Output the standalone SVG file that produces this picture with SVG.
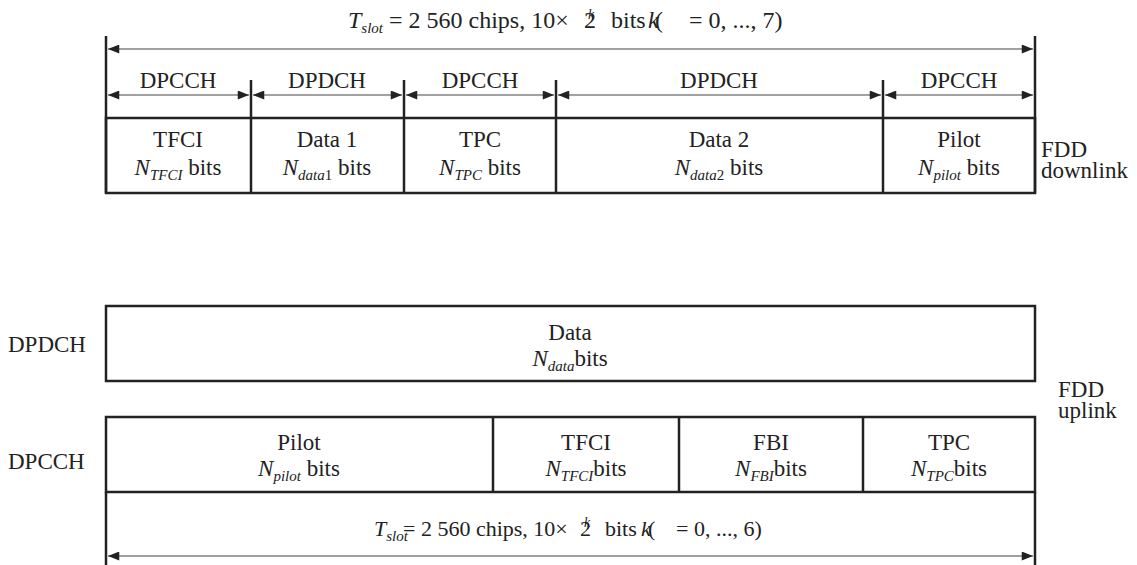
<svg xmlns="http://www.w3.org/2000/svg" width="1137" height="565" viewBox="0 0 1137 565">
<style>
text{font-family:"Liberation Serif","Times New Roman",serif;fill:#222;}
.lbl{font-size:23px;text-anchor:middle;}
.side{font-size:23px;}
.ttl{font-size:24px;}
.it{font-style:italic;}
.sub{font-style:italic;font-size:15px;}
.sup{font-style:italic;font-size:14px;}
.box{fill:none;stroke:#222;stroke-width:2.5;}
.div{stroke:#222;stroke-width:2.5;}
.arr{stroke:#444;stroke-width:1.2;marker-start:url(#ah);marker-end:url(#ah);}
</style>
<defs>
<marker id="ah" viewBox="0 0 10 8" refX="10" refY="4" markerWidth="12" markerHeight="9" markerUnits="userSpaceOnUse" orient="auto-start-reverse">
<path d="M0,0 L10,4 L0,8 z" fill="#222"/>
</marker>
</defs>

<g id="connectors">
<line class="div" x1="106" y1="36" x2="106" y2="193"/>
<line class="div" x1="1035" y1="36" x2="1035" y2="193"/>
<line class="arr" x1="108" y1="49" x2="1033" y2="49"/>
<line class="div" x1="251" y1="80" x2="251" y2="118"/>
<line class="div" x1="404" y1="80" x2="404" y2="118"/>
<line class="div" x1="556" y1="80" x2="556" y2="118"/>
<line class="div" x1="883" y1="80" x2="883" y2="118"/>
<line class="arr" x1="108" y1="95" x2="249" y2="95"/>
<line class="arr" x1="253" y1="95" x2="402" y2="95"/>
<line class="arr" x1="406" y1="95" x2="554" y2="95"/>
<line class="arr" x1="558" y1="95" x2="881" y2="95"/>
<line class="arr" x1="885" y1="95" x2="1033" y2="95"/>
<line class="div" x1="106" y1="492" x2="106" y2="565"/>
<line class="div" x1="1035" y1="492" x2="1035" y2="565"/>
<line class="arr" x1="108" y1="556" x2="1033" y2="556"/>
</g>

<g id="title-top" class="ttl">
<text x="348" y="28"><tspan class="it">T</tspan><tspan class="sub" dy="5">slot</tspan></text>
<text x="389" y="28">= 2 560 chips, 10×</text>
<text x="584" y="28">2</text>
<text x="588" y="19" class="sup">k</text>
<text x="611" y="28">bits</text>
<text x="648" y="28" class="it">k</text>
<text x="655" y="28">(</text>
<text x="689" y="28">= 0, ..., 7)</text>
</g>

<g id="seg-labels">
<text class="lbl" x="178" y="88">DPCCH</text>
<text class="lbl" x="327" y="88">DPDCH</text>
<text class="lbl" x="480" y="88">DPCCH</text>
<text class="lbl" x="719" y="88">DPDCH</text>
<text class="lbl" x="959" y="88">DPCCH</text>
</g>

<g id="downlink">
<rect class="box" x="106" y="118" width="929" height="75"/>
<line class="div" x1="251" y1="118" x2="251" y2="193"/>
<line class="div" x1="404" y1="118" x2="404" y2="193"/>
<line class="div" x1="556" y1="118" x2="556" y2="193"/>
<line class="div" x1="883" y1="118" x2="883" y2="193"/>
</g>
<g id="dl-tfci">
<text class="lbl" x="178" y="147">TFCI</text>
<text class="lbl" x="178" y="175"><tspan class="it">N</tspan><tspan class="sub" dy="5">TFCI</tspan><tspan dy="-5"> bits</tspan></text>
</g>
<g id="dl-data1">
<text class="lbl" x="327" y="147">Data 1</text>
<text class="lbl" x="327" y="175"><tspan class="it">N</tspan><tspan class="sub" dy="5">data</tspan><tspan font-size="15">1</tspan><tspan dy="-5"> bits</tspan></text>
</g>
<g id="dl-tpc">
<text class="lbl" x="480" y="147">TPC</text>
<text class="lbl" x="480" y="175"><tspan class="it">N</tspan><tspan class="sub" dy="5">TPC</tspan><tspan dy="-5"> bits</tspan></text>
</g>
<g id="dl-data2">
<text class="lbl" x="719" y="147">Data 2</text>
<text class="lbl" x="719" y="175"><tspan class="it">N</tspan><tspan class="sub" dy="5">data</tspan><tspan font-size="15">2</tspan><tspan dy="-5"> bits</tspan></text>
</g>
<g id="dl-pilot">
<text class="lbl" x="959" y="147">Pilot</text>
<text class="lbl" x="959" y="175"><tspan class="it">N</tspan><tspan class="sub" dy="5">pilot</tspan><tspan dy="-5"> bits</tspan></text>
</g>
<g id="fdd-downlink">
<text class="side" x="1041" y="157">FDD</text>
<text class="side" x="1041" y="178">downlink</text>
</g>

<g id="ul-dpdch">
<text class="side" x="8" y="352">DPDCH</text>
<rect class="box" x="106" y="306" width="929" height="75"/>
<text class="lbl" x="570" y="340">Data</text>
<text class="lbl" x="570" y="366"><tspan class="it">N</tspan><tspan class="sub" dy="5">data</tspan><tspan dy="-5">bits</tspan></text>
</g>

<g id="fdd-uplink">
<text class="side" x="1058" y="397">FDD</text>
<text class="side" x="1058" y="418">uplink</text>
</g>

<g id="ul-dpcch">
<text class="side" x="8" y="469">DPCCH</text>
<rect class="box" x="106" y="417" width="929" height="75"/>
<line class="div" x1="493" y1="417" x2="493" y2="492"/>
<line class="div" x1="679" y1="417" x2="679" y2="492"/>
<line class="div" x1="863" y1="417" x2="863" y2="492"/>
</g>
<g id="ul-pilot">
<text class="lbl" x="299" y="450">Pilot</text>
<text class="lbl" x="299" y="476"><tspan class="it">N</tspan><tspan class="sub" dy="5">pilot</tspan><tspan dy="-5"> bits</tspan></text>
</g>
<g id="ul-tfci">
<text class="lbl" x="586" y="450">TFCI</text>
<text class="lbl" x="586" y="476"><tspan class="it">N</tspan><tspan class="sub" dy="5">TFCI</tspan><tspan dy="-5">bits</tspan></text>
</g>
<g id="ul-fbi">
<text class="lbl" x="771" y="450">FBI</text>
<text class="lbl" x="771" y="476"><tspan class="it">N</tspan><tspan class="sub" dy="5">FBI</tspan><tspan dy="-5">bits</tspan></text>
</g>
<g id="ul-tpc">
<text class="lbl" x="949" y="450">TPC</text>
<text class="lbl" x="949" y="476"><tspan class="it">N</tspan><tspan class="sub" dy="5">TPC</tspan><tspan dy="-5">bits</tspan></text>
</g>

<g id="title-bottom">
<text x="374" y="536" font-size="22"><tspan class="it">T</tspan><tspan class="sub" font-size="14" dy="5">slot</tspan></text>
<text x="403" y="536" font-size="22">= 2 560 chips, 10×</text>
<text x="580" y="536" font-size="22">2</text>
<text x="584" y="527" class="sup" font-size="13">k</text>
<text x="605" y="536" font-size="22">bits</text>
<text x="641" y="536" font-size="22" class="it">k</text>
<text x="648" y="536" font-size="22">(</text>
<text x="676" y="536" font-size="22">= 0, ..., 6)</text>
</g>
</svg>
